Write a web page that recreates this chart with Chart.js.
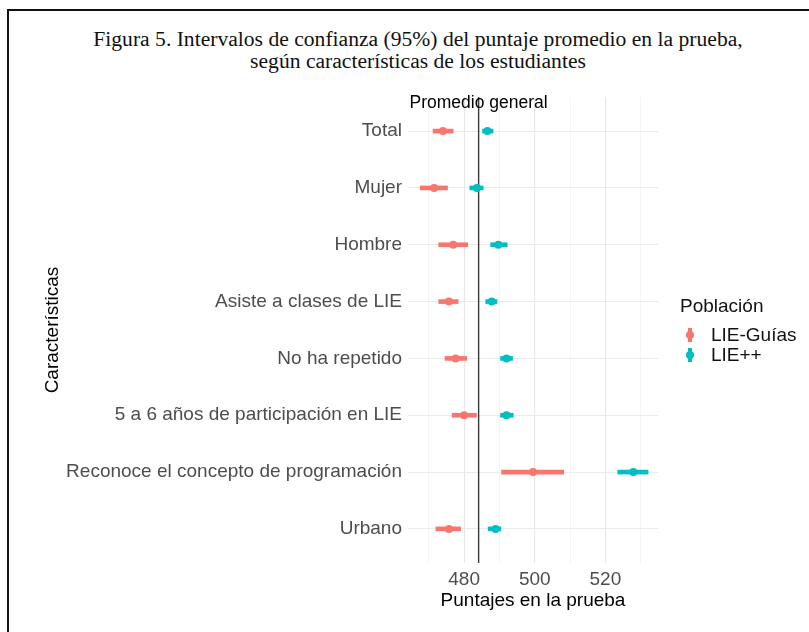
<!DOCTYPE html>
<html>
<head>
<meta charset="utf-8">
<script src="https://cdn.jsdelivr.net/npm/chart.js@4"></script>
<style>
  html, body { margin: 0; padding: 0; background: #fff; }
  #wrap { position: relative; width: 809px; height: 632px; overflow: hidden; background: #fff; }
  #frame { position: absolute; left: 7px; top: 9px; width: 900px; height: 700px; border-top: 2px solid #111; border-left: 2px solid #111; }
  #title { position: absolute; left: 0; width: 836px; top: 28px; text-align: center; font-family: "Liberation Serif", "DejaVu Serif", serif; font-size: 21.6px; line-height: 22px; color: #111; }
  canvas { position: absolute; left: 0; top: 0; }
  #legend { position: absolute; left: 680px; top: 294px; font-family: "Liberation Sans", Arial, sans-serif; color: #111; }
  #legend .lt { font-size: 19px; line-height: 24px; height: 31px; }
  #legend .it { position: relative; height: 20px; line-height: 20px; font-size: 19px; padding-left: 31px; }
  #legend .bar { position: absolute; left: 8px; top: 3px; width: 4px; height: 14px; }
  #legend .dot { position: absolute; left: 6px; top: 6px; width: 8px; height: 8px; border-radius: 50%; }
</style>
</head>
<body>
<div id="wrap">
  <div id="frame"></div>
  <div id="title">Figura 5. Intervalos de confianza (95%) del puntaje promedio en la prueba,<br>según características de los estudiantes</div>
  <canvas id="c" width="809" height="632"></canvas>
  <div id="legend"></div>
</div>
<script>
// ---- Data ----
const categories = ["Total", "Mujer", "Hombre", "Asiste a clases de LIE", "No ha repetido",
  "5 a 6 años de participación en LIE", "Reconoce el concepto de programación", "Urbano"];
const seriesNames = ["LIE-Guías", "LIE++"];
const guiasMean = [474.0, 471.5, 476.9, 475.7, 477.6, 480.0, 499.5, 475.7];
const guiasLow  = [471.2, 467.6, 472.8, 472.8, 474.6, 476.6, 490.6, 472.0];
const guiasHigh = [476.9, 475.3, 481.0, 478.3, 480.7, 483.5, 508.2, 479.0];
const plusMean  = [486.6, 483.6, 489.7, 487.8, 492.0, 492.0, 527.9, 488.9];
const plusLow   = [485.2, 481.6, 487.5, 486.1, 490.3, 490.3, 523.5, 486.8];
const plusHigh  = [488.2, 485.4, 492.2, 489.3, 493.7, 493.9, 532.1, 490.4];
const promedioGeneral = 484.1;
const promedioLabel = "Promedio general";
const xTicks = [470, 480, 490, 500, 510, 520, 530];
const xTickLabels = ["", "480", "", "500", "", "520", ""];
const xTitle = "Puntajes en la prueba";
const yTitle = "Características";
const legendTitle = "Población";

const colors = ["#F8766D", "#00BFC4"];

function intervals(lo, hi) { return categories.map((c, i) => ({ y: i + 1, x: [lo[i], hi[i]] })); }
function points(m) { return categories.map((c, i) => ({ y: i + 1, x: m[i] })); }

const SANS = '"Liberation Sans", Arial, sans-serif';

const promedioPlugin = {
  id: 'promedio',
  afterDatasetsDraw(chart) {
    const { ctx, scales } = chart;
    const x = scales.x.getPixelForValue(promedioGeneral);
    const y = scales.y.getPixelForValue(0.5);
    ctx.save();
    ctx.font = '17.5px ' + SANS;
    ctx.fillStyle = '#000';
    ctx.textAlign = 'center';
    ctx.textBaseline = 'middle';
    ctx.fillText(promedioLabel, x, y);
    ctx.restore();
  }
};

new Chart(document.getElementById('c'), {
  data: {
    datasets: [
      { type: 'line', label: 'ref', data: [{ x: promedioGeneral, y: 0.4 }, { x: promedioGeneral, y: 8.6 }],
        borderColor: '#3a3a3a', borderWidth: 1.4, pointRadius: 0, order: 3 },
      { type: 'bar', indexAxis: 'y', label: seriesNames[0], data: intervals(guiasLow, guiasHigh),
        backgroundColor: colors[0], barThickness: 4, grouped: false, order: 2 },
      { type: 'bar', indexAxis: 'y', label: seriesNames[1], data: intervals(plusLow, plusHigh),
        backgroundColor: colors[1], barThickness: 4, grouped: false, order: 2 },
      { type: 'scatter', label: seriesNames[0] + ' media', data: points(guiasMean),
        backgroundColor: colors[0], borderWidth: 0, pointRadius: 4, order: 1 },
      { type: 'scatter', label: seriesNames[1] + ' media', data: points(plusMean),
        backgroundColor: colors[1], borderWidth: 0, pointRadius: 4, order: 1 }
    ]
  },
  options: {
    responsive: false,
    animation: false,
    layout: { padding: { top: 97, right: 151, bottom: 0, left: 0 } },
    plugins: { legend: { display: false }, tooltip: { enabled: false } },
    scales: {
      x: {
        type: 'linear', position: 'bottom', min: 464.1, max: 534.9, offset: false,
        afterBuildTicks: s => { s.ticks = xTicks.map(v => ({ value: v })); },
        afterFit: s => { s.height = 69; },
        border: { display: false },
        grid: { offset: false, drawTicks: false, color: ctx => (ctx.tick && xTickLabels[xTicks.indexOf(ctx.tick.value)] ? '#e8e8e8' : '#f1f1f1'),
                lineWidth: ctx => (ctx.tick && xTickLabels[xTicks.indexOf(ctx.tick.value)] ? 1.1 : 0.8) },
        ticks: { padding: 5, color: '#4D4D4D', font: { family: SANS, size: 19 },
                 callback: v => { const i = xTicks.indexOf(v); return i >= 0 ? xTickLabels[i] : ''; } },
        title: { display: true, text: xTitle, color: '#000', font: { family: SANS, size: 19 }, padding: { top: 0, bottom: 20 } }
      },
      y: {
        type: 'linear', position: 'left', min: 0.4, max: 8.6, reverse: true, offset: false,
        afterBuildTicks: s => { s.ticks = categories.map((c, i) => ({ value: i + 1 })); },
        afterFit: s => { s.width = 408; },
        border: { display: false },
        grid: { offset: false, drawTicks: false, color: '#ebebeb', lineWidth: 1.1 },
        ticks: { padding: 6, color: '#4D4D4D', font: { family: SANS, size: 19 },
                 callback: v => categories[Math.round(v) - 1] || '' },
        title: { display: true, text: yTitle, color: '#000', font: { family: SANS, size: 19 }, padding: { top: 41, bottom: 0 } }
      }
    }
  },
  plugins: [promedioPlugin]
});

// HTML legend
const lg = document.getElementById('legend');
let html = '<div class="lt">' + legendTitle + '</div>';
seriesNames.forEach((n, i) => {
  html += '<div class="it"><span class="bar" style="background:' + colors[i] + '"></span>' +
          '<span class="dot" style="background:' + colors[i] + '"></span>' + n + '</div>';
});
lg.innerHTML = html;
</script>
</body>
</html>
